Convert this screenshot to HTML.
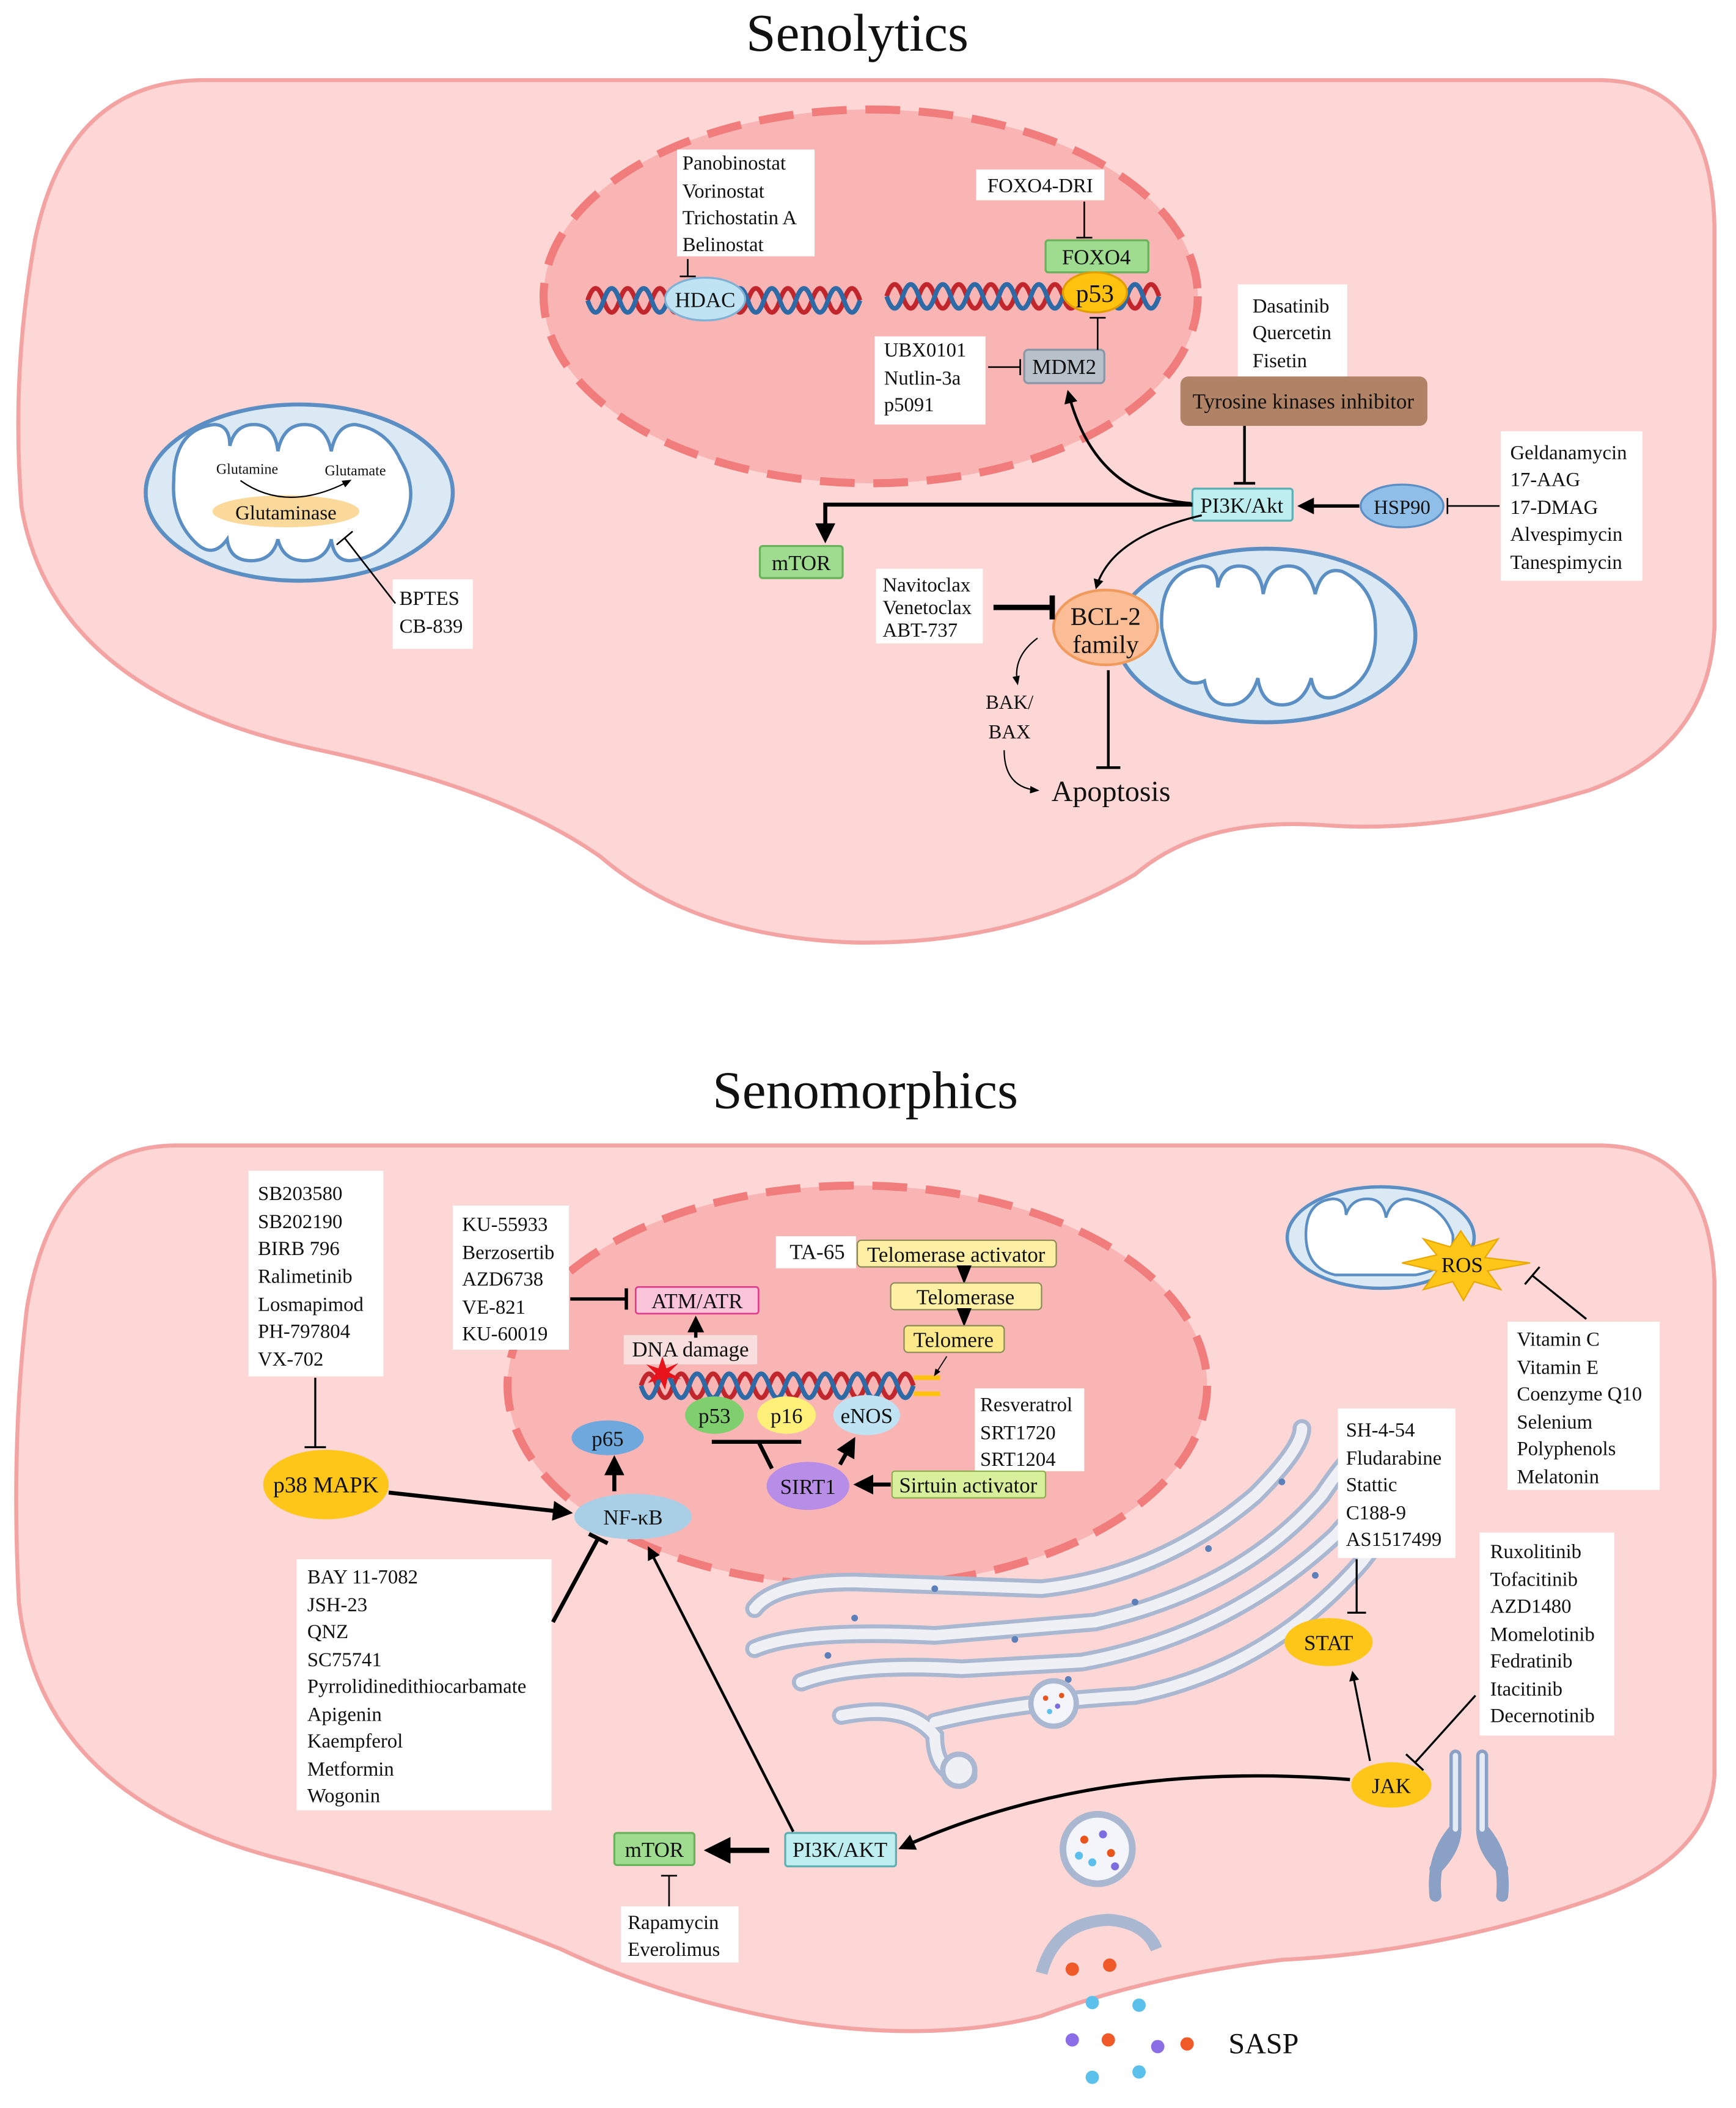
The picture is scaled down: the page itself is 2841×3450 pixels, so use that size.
<!DOCTYPE html>
<html><head><meta charset="utf-8"><style>
html,body{margin:0;padding:0;background:#fff;}
svg{display:block;}
text{font-family:"Liberation Serif",serif;fill:#111;}
</style></head><body>
<svg width="2841" height="3450" viewBox="0 0 1300 1579" xmlns="http://www.w3.org/2000/svg">
<defs>
<marker id="a" viewBox="0 0 10 10" refX="8" refY="5" markerWidth="5" markerHeight="5" orient="auto"><path d="M0,0 L10,5 L0,10 z" fill="#000"/></marker>
<marker id="as" viewBox="0 0 10 10" refX="8" refY="5" markerWidth="7" markerHeight="7" orient="auto"><path d="M0,1 L10,5 L0,9 z" fill="#000"/></marker>
</defs>
<rect width="1300" height="1579" fill="#fff"/>

<!-- ========== SENOLYTICS ========== -->
<text x="642" y="38" font-size="40" text-anchor="middle">Senolytics</text>
<path d="M150,60 L1200,60 Q1282,62 1284,170 L1284,470 Q1280,560 1190,592 Q1080,625 990,618 Q900,612 850,655 Q760,708 640,706 Q520,702 450,642 Q380,592 240,562 Q40,520 16,380 Q8,280 26,180 Q50,62 150,60 Z" fill="#fdd6d6" stroke="#f4a3a3" stroke-width="3"/>
<ellipse cx="652" cy="222" rx="245" ry="140" fill="#f9b4b4" stroke="#f07c7c" stroke-width="6" stroke-dasharray="26,14"/>

<!-- helix 1 -->
<path d="M440,225 q6,-18 12,0 t12,0 t12,0 t12,0 t12,0 t12,0 t12,0 t12,0 t12,0 t12,0 t12,0 t12,0 t12,0 t12,0 t12,0 t12,0 t12,0" fill="none" stroke="#c0262c" stroke-width="3.5"/>
<path d="M440,225 q6,18 12,0 t12,0 t12,0 t12,0 t12,0 t12,0 t12,0 t12,0 t12,0 t12,0 t12,0 t12,0 t12,0 t12,0 t12,0 t12,0 t12,0" fill="none" stroke="#2d6aa6" stroke-width="3.5"/>
<path d="M664,222 q6,-18 12,0 t12,0 t12,0 t12,0 t12,0 t12,0 t12,0 t12,0 t12,0 t12,0 t12,0 t12,0 t12,0 t12,0 t12,0 t12,0 t12,0" fill="none" stroke="#c0262c" stroke-width="3.5"/>
<path d="M664,222 q6,18 12,0 t12,0 t12,0 t12,0 t12,0 t12,0 t12,0 t12,0 t12,0 t12,0 t12,0 t12,0 t12,0 t12,0 t12,0 t12,0 t12,0" fill="none" stroke="#2d6aa6" stroke-width="3.5"/>

<ellipse cx="528" cy="224" rx="30" ry="16" fill="#bfe3f3" stroke="#7fb1d4" stroke-width="1.5"/>
<text x="528" y="230" font-size="16" text-anchor="middle">HDAC</text>
<rect x="507" y="112" width="103" height="80" fill="#fff"/>
<text font-size="15"><tspan x="511" y="127">Panobinostat</tspan><tspan x="511" y="148">Vorinostat</tspan><tspan x="511" y="168">Trichostatin A</tspan><tspan x="511" y="188">Belinostat</tspan></text>
<path d="M515,194 V207 M509,207 H521" stroke="#000" stroke-width="1.2"/>

<rect x="731" y="127" width="96" height="23" fill="#fff"/>
<text x="779" y="144" font-size="15" text-anchor="middle">FOXO4-DRI</text>
<path d="M812,151 V178 M806,178 H818" stroke="#000" stroke-width="1.2"/>
<rect x="783" y="180" width="77" height="24" fill="#9fdc8f" stroke="#6bb25c" stroke-width="1.5" rx="2"/>
<text x="821" y="198" font-size="16" text-anchor="middle">FOXO4</text>
<ellipse cx="820" cy="219" rx="24" ry="15" fill="#ffc20e" stroke="#e29c00" stroke-width="1.5"/>
<text x="820" y="226" font-size="19" text-anchor="middle">p53</text>

<rect x="767" y="262" width="60" height="25" fill="#b8c0ca" stroke="#8a97a6" stroke-width="1.5" rx="3"/>
<text x="797" y="280" font-size="16" text-anchor="middle">MDM2</text>
<path d="M822,262 V238 M816,238 H828" stroke="#000" stroke-width="1.2"/>
<rect x="655" y="252" width="83" height="66" fill="#fff"/>
<text font-size="15"><tspan x="662" y="267">UBX0101</tspan><tspan x="662" y="288">Nutlin-3a</tspan><tspan x="662" y="308">p5091</tspan></text>
<path d="M740,275 H764 M764,269 V281" stroke="#000" stroke-width="1.2"/>

<rect x="927" y="213" width="82" height="70" fill="#fff"/>
<text font-size="15"><tspan x="938" y="234">Dasatinib</tspan><tspan x="938" y="254">Quercetin</tspan><tspan x="938" y="275">Fisetin</tspan></text>
<rect x="884" y="282" width="185" height="37" fill="#b08266" rx="6"/>
<text x="976" y="306" font-size="16" text-anchor="middle">Tyrosine kinases inhibitor</text>
<path d="M932,319 V362 M924,362 H940" stroke="#000" stroke-width="2"/>

<rect x="893" y="366" width="75" height="24" fill="#bfeef0" stroke="#5fb0b5" stroke-width="1.5" rx="2"/>
<text x="930" y="384" font-size="16" text-anchor="middle">PI3K/Akt</text>
<ellipse cx="1050" cy="379" rx="31" ry="16" fill="#8fbfe8" stroke="#5b8fc4" stroke-width="1.5"/>
<text x="1050" y="385" font-size="15" text-anchor="middle">HSP90</text>
<path d="M1018,379 H974" stroke="#000" stroke-width="2.5" marker-end="url(#a)"/>
<path d="M1123,379 H1084 M1084,373 V385" stroke="#000" stroke-width="1.2"/>
<rect x="1124" y="323" width="106" height="112" fill="#fff"/>
<text font-size="15"><tspan x="1131" y="344">Geldanamycin</tspan><tspan x="1131" y="364">17-AAG</tspan><tspan x="1131" y="385">17-DMAG</tspan><tspan x="1131" y="405">Alvespimycin</tspan><tspan x="1131" y="426">Tanespimycin</tspan></text>

<path d="M892,377 Q820,372 800,294" fill="none" stroke="#000" stroke-width="2" marker-end="url(#a)"/>
<path d="M893,378 H618 V404" fill="none" stroke="#000" stroke-width="3" marker-end="url(#a)"/>
<rect x="569" y="409" width="62" height="24" fill="#9fdc8f" stroke="#6bb25c" stroke-width="1.5" rx="2"/>
<text x="600" y="427" font-size="16" text-anchor="middle">mTOR</text>
<path d="M900,386 Q832,402 821,440" fill="none" stroke="#000" stroke-width="1.5" marker-end="url(#a)"/>

<!-- right mito -->
<ellipse cx="948" cy="476" rx="112" ry="65" fill="#dbe9f5" stroke="#5b8fc4" stroke-width="3"/>
<path d="M870,470 Q868,428 900,424 Q912,424 912,440 Q915,424 928,424 Q944,424 946,445 Q950,424 965,424 Q980,424 985,445 Q990,424 1005,428 Q1030,440 1030,470 Q1032,510 1000,522 Q985,526 982,508 Q976,528 960,528 Q945,528 942,508 Q936,528 920,528 Q905,528 902,510 Q880,520 870,470 Z" fill="#fff" stroke="#5b8fc4" stroke-width="2.5"/>
<ellipse cx="828" cy="470" rx="39" ry="28" fill="#fbbd96" stroke="#f09a5c" stroke-width="2"/>
<text x="828" y="468" font-size="19" text-anchor="middle">BCL-2</text>
<text x="828" y="489" font-size="19" text-anchor="middle">family</text>
<rect x="656" y="426" width="80" height="56" fill="#fff"/>
<text font-size="15"><tspan x="661" y="443">Navitoclax</tspan><tspan x="661" y="460">Venetoclax</tspan><tspan x="661" y="477">ABT-737</tspan></text>
<path d="M744,455 H788 M788,446 V464" stroke="#000" stroke-width="4"/>
<text font-size="15" text-anchor="middle"><tspan x="756" y="531">BAK/</tspan><tspan x="756" y="553">BAX</tspan></text>
<path d="M777,478 Q758,492 762,512" fill="none" stroke="#000" stroke-width="1" marker-end="url(#as)"/>
<path d="M752,562 Q752,590 777,592" fill="none" stroke="#000" stroke-width="1" marker-end="url(#as)"/>
<text x="832" y="600" font-size="22" text-anchor="middle">Apoptosis</text>
<path d="M830,502 V575 M821,575 H839" stroke="#000" stroke-width="2"/>

<!-- left mito -->
<ellipse cx="224" cy="369" rx="115" ry="66" fill="#dbe9f5" stroke="#5b8fc4" stroke-width="3"/>
<path d="M130,360 Q130,322 160,318 Q172,318 172,334 Q176,318 190,318 Q206,318 208,338 Q212,318 228,318 Q244,318 248,338 Q252,318 266,318 Q290,322 300,345 Q315,370 300,395 Q285,418 262,420 Q250,420 248,404 Q244,420 228,420 Q212,420 208,404 Q204,420 188,420 Q172,420 170,404 Q160,418 148,408 Q128,390 130,360 Z" fill="#fff" stroke="#5b8fc4" stroke-width="2.5"/>
<ellipse cx="214" cy="383" rx="55" ry="12" fill="#fbd99a"/>
<text x="214" y="389" font-size="15" text-anchor="middle">Glutaminase</text>
<text x="185" y="355" font-size="11" text-anchor="middle">Glutamine</text>
<text x="266" y="356" font-size="11" text-anchor="middle">Glutamate</text>
<path d="M180,360 Q215,385 262,360" fill="none" stroke="#000" stroke-width="1" marker-end="url(#as)"/>
<rect x="294" y="434" width="60" height="52" fill="#fff"/>
<text font-size="15"><tspan x="299" y="453">BPTES</tspan><tspan x="299" y="474">CB-839</tspan></text>
<path d="M296,452 L258,403 M252,408 L264,398" stroke="#000" stroke-width="1.2"/>

<!-- ========== SENOMORPHICS ========== -->
<text x="648" y="830" font-size="40" text-anchor="middle">Senomorphics</text>
<path d="M130,858 L1200,858 Q1280,860 1284,960 L1284,1330 Q1280,1390 1200,1420 Q1080,1462 960,1468 Q860,1480 780,1510 Q700,1530 600,1515 Q500,1498 420,1460 Q320,1420 220,1395 Q30,1350 14,1200 Q8,1080 20,980 Q40,860 130,858 Z" fill="#fdd6d6" stroke="#f4a3a3" stroke-width="3"/>
<ellipse cx="642" cy="1038" rx="262" ry="150" fill="#f9b4b4" stroke="#f07c7c" stroke-width="6" stroke-dasharray="26,14"/>

<!-- ER -->
<g fill="none" stroke-linecap="round">
<g stroke="#a9b8d0" stroke-width="14">
<path d="M565,1205 Q580,1185 640,1185 L780,1190 Q870,1180 940,1120 Q975,1085 975,1070"/>
<path d="M565,1235 Q600,1220 700,1225 L820,1215 Q930,1190 990,1120 Q1010,1090 1020,1085"/>
<path d="M600,1260 Q640,1245 720,1250 L810,1245 Q920,1225 1000,1150 Q1035,1110 1055,1100"/>
<path d="M630,1285 Q680,1275 700,1300 Q700,1330 725,1330 M700,1290 Q760,1275 850,1270 Q950,1250 1020,1170 Q1050,1130 1075,1120"/>
</g>
<g stroke="#eef0f6" stroke-width="8">
<path d="M565,1205 Q580,1185 640,1185 L780,1190 Q870,1180 940,1120 Q975,1085 975,1070"/>
<path d="M565,1235 Q600,1220 700,1225 L820,1215 Q930,1190 990,1120 Q1010,1090 1020,1085"/>
<path d="M600,1260 Q640,1245 720,1250 L810,1245 Q920,1225 1000,1150 Q1035,1110 1055,1100"/>
<path d="M630,1285 Q680,1275 700,1300 Q700,1330 725,1330 M700,1290 Q760,1275 850,1270 Q950,1250 1020,1170 Q1050,1130 1075,1120"/>
</g>
</g>
<circle cx="718" cy="1326" r="12" fill="#eef0f6" stroke="#a9b8d0" stroke-width="4"/>
<g fill="#5b7fb8"><circle cx="640" cy="1212" r="2.5"/><circle cx="700" cy="1190" r="2.5"/><circle cx="760" cy="1228" r="2.5"/><circle cx="850" cy="1200" r="2.5"/><circle cx="905" cy="1160" r="2.5"/><circle cx="960" cy="1110" r="2.5"/><circle cx="620" cy="1240" r="2.5"/><circle cx="800" cy="1258" r="2.5"/><circle cx="985" cy="1180" r="2.5"/></g>

<!-- nucleus 2 helix -->
<path d="M480,1038 q6,-18 12,0 t12,0 t12,0 t12,0 t12,0 t12,0 t12,0 t12,0 t12,0 t12,0 t12,0 t12,0 t12,0 t12,0 t12,0 t12,0 t12,0" fill="none" stroke="#c0262c" stroke-width="3.5"/>
<path d="M480,1038 q6,18 12,0 t12,0 t12,0 t12,0 t12,0 t12,0 t12,0 t12,0 t12,0 t12,0 t12,0 t12,0 t12,0 t12,0 t12,0 t12,0 t12,0" fill="none" stroke="#2d6aa6" stroke-width="3.5"/>
<path d="M684,1032 H704 M684,1044 H704" stroke="#ffc20e" stroke-width="3.5"/>
<rect x="467" y="1000" width="100" height="22" fill="#f9dede"/>
<text x="517" y="1016" font-size="16" text-anchor="middle">DNA damage</text>
<path d="M496,1016 L499,1025 L508,1021 L501,1028 L510,1033 L500,1032 L498,1041 L494,1033 L485,1036 L491,1029 L484,1022 L493,1025 Z" fill="#e8141c"/>
<path d="M521,1002 V988" stroke="#000" stroke-width="2.5" marker-end="url(#a)"/>
<rect x="476" y="964" width="92" height="20" fill="#fcc4d9" stroke="#e23a8c" stroke-width="1.2" rx="2"/>
<text x="522" y="980" font-size="16" text-anchor="middle">ATM/ATR</text>
<rect x="339" y="903" width="87" height="108" fill="#fff"/>
<text font-size="15"><tspan x="346" y="922">KU-55933</tspan><tspan x="346" y="943">Berzosertib</tspan><tspan x="346" y="963">AZD6738</tspan><tspan x="346" y="984">VE-821</tspan><tspan x="346" y="1004">KU-60019</tspan></text>
<path d="M427,973 H469 M469,965 V981" stroke="#000" stroke-width="2.5"/>

<rect x="581" y="926" width="60" height="24" fill="#fff"/>
<text x="612" y="943" font-size="16" text-anchor="middle">TA-65</text>
<rect x="642" y="929" width="149" height="20" fill="#fdf0a5" stroke="#8a8a55" stroke-width="1" rx="3"/>
<text x="716" y="945" font-size="16" text-anchor="middle">Telomerase activator</text>
<path d="M722,950 V959" stroke="#000" stroke-width="2" marker-end="url(#as)"/>
<rect x="667" y="961" width="113" height="20" fill="#fdf0a5" stroke="#8a8a55" stroke-width="1" rx="3"/>
<text x="723" y="977" font-size="16" text-anchor="middle">Telomerase</text>
<path d="M722,982 V991" stroke="#000" stroke-width="2" marker-end="url(#as)"/>
<rect x="677" y="993" width="75" height="20" fill="#fde98a" stroke="#8a8a55" stroke-width="1" rx="3"/>
<text x="714" y="1009" font-size="16" text-anchor="middle">Telomere</text>
<path d="M709,1016 L700,1030" stroke="#000" stroke-width="0.8" marker-end="url(#as)"/>

<ellipse cx="535" cy="1060" rx="22" ry="14" fill="#7fcf6f"/>
<text x="535" y="1066" font-size="16" text-anchor="middle">p53</text>
<ellipse cx="589" cy="1060" rx="22" ry="14" fill="#fff07a"/>
<text x="589" y="1066" font-size="16" text-anchor="middle">p16</text>
<ellipse cx="649" cy="1060" rx="25" ry="15" fill="#bfe3f3"/>
<text x="649" y="1066" font-size="16" text-anchor="middle">eNOS</text>
<path d="M533,1080 H600 M568,1080 L578,1100" stroke="#000" stroke-width="3"/>
<ellipse cx="605" cy="1113" rx="31" ry="18" fill="#b88de8"/>
<text x="605" y="1119" font-size="16" text-anchor="middle">SIRT1</text>
<path d="M629,1097 L639,1079" stroke="#000" stroke-width="3" marker-end="url(#a)"/>
<rect x="730" y="1040" width="82" height="62" fill="#fff"/>
<text font-size="15"><tspan x="734" y="1057">Resveratrol</tspan><tspan x="734" y="1078">SRT1720</tspan><tspan x="734" y="1098">SRT1204</tspan></text>
<rect x="668" y="1102" width="115" height="20" fill="#d8ef9c" stroke="#8ab04c" stroke-width="1" rx="2"/>
<text x="725" y="1118" font-size="16" text-anchor="middle">Sirtuin activator</text>
<path d="M667,1112 H642" stroke="#000" stroke-width="3" marker-end="url(#a)"/>

<ellipse cx="455" cy="1077" rx="27" ry="13" fill="#6fa8dc"/>
<text x="455" y="1083" font-size="16" text-anchor="middle">p65</text>
<path d="M460,1117 V1093" stroke="#000" stroke-width="3" marker-end="url(#a)"/>
<ellipse cx="474" cy="1136" rx="44" ry="17" fill="#a9cfe7"/>
<text x="474" y="1142" font-size="16" text-anchor="middle">NF-κB</text>

<rect x="186" y="877" width="101" height="154" fill="#fff"/>
<text font-size="15"><tspan x="193" y="899">SB203580</tspan><tspan x="193" y="920">SB202190</tspan><tspan x="193" y="940">BIRB 796</tspan><tspan x="193" y="961">Ralimetinib</tspan><tspan x="193" y="982">Losmapimod</tspan><tspan x="193" y="1002">PH-797804</tspan><tspan x="193" y="1023">VX-702</tspan></text>
<path d="M236,1032 V1084 M228,1084 H244" stroke="#000" stroke-width="1.5"/>
<ellipse cx="244" cy="1112" rx="47" ry="26" fill="#ffc61a"/>
<text x="244" y="1118" font-size="17" text-anchor="middle">p38 MAPK</text>
<path d="M291,1118 L426,1133" stroke="#000" stroke-width="3" marker-end="url(#a)"/>

<rect x="222" y="1168" width="191" height="188" fill="#fff"/>
<text font-size="15"><tspan x="230" y="1186">BAY 11-7082</tspan><tspan x="230" y="1207">JSH-23</tspan><tspan x="230" y="1227">QNZ</tspan><tspan x="230" y="1248">SC75741</tspan><tspan x="230" y="1268">Pyrrolidinedithiocarbamate</tspan><tspan x="230" y="1289">Apigenin</tspan><tspan x="230" y="1309">Kaempferol</tspan><tspan x="230" y="1330">Metformin</tspan><tspan x="230" y="1350">Wogonin</tspan></text>
<path d="M414,1215 L448,1152 M441,1149 L455,1156" stroke="#000" stroke-width="3"/>

<rect x="588" y="1373" width="83" height="25" fill="#bfeef0" stroke="#5fb0b5" stroke-width="1.5" rx="2"/>
<text x="629" y="1391" font-size="16" text-anchor="middle">PI3K/AKT</text>
<path d="M594,1372 L486,1160" stroke="#000" stroke-width="2" marker-end="url(#a)"/>
<path d="M576,1386 H531" stroke="#000" stroke-width="4" marker-end="url(#a)"/>
<rect x="460" y="1373" width="60" height="24" fill="#9fdc8f" stroke="#6bb25c" stroke-width="1.5" rx="2"/>
<text x="490" y="1391" font-size="16" text-anchor="middle">mTOR</text>
<path d="M501,1428 V1405 M495,1405 H507" stroke="#000" stroke-width="1.2"/>
<rect x="465" y="1428" width="88" height="42" fill="#fff"/>
<text font-size="15"><tspan x="470" y="1445">Rapamycin</tspan><tspan x="470" y="1465">Everolimus</tspan></text>

<!-- receptor -->
<g fill="none" stroke="#8aa0c4" stroke-width="9" stroke-linecap="round"><path d="M1090,1315 L1090,1370 Q1090,1385 1075,1400 M1110,1315 L1110,1370 Q1110,1385 1125,1400"/><path d="M1090,1370 Q1072,1390 1075,1420 M1110,1370 Q1128,1390 1125,1420"/></g>
<g fill="none" stroke="#e4ebf5" stroke-width="4" stroke-linecap="round"><path d="M1090,1315 L1090,1370 M1110,1315 L1110,1370"/></g>
<ellipse cx="1042" cy="1337" rx="30" ry="17" fill="#ffc61a"/>
<text x="1042" y="1343" font-size="16" text-anchor="middle">JAK</text>
<path d="M1011,1333 Q820,1318 675,1384" fill="none" stroke="#000" stroke-width="2.5" marker-end="url(#a)"/>
<path d="M1026,1319 L1013,1253" stroke="#000" stroke-width="1.5" marker-end="url(#a)"/>
<ellipse cx="995" cy="1230" rx="33" ry="18" fill="#ffc61a"/>
<text x="995" y="1236" font-size="16" text-anchor="middle">STAT</text>
<rect x="1002" y="1055" width="88" height="112" fill="#fff"/>
<text font-size="15"><tspan x="1008" y="1076">SH-4-54</tspan><tspan x="1008" y="1097">Fludarabine</tspan><tspan x="1008" y="1117">Stattic</tspan><tspan x="1008" y="1138">C188-9</tspan><tspan x="1008" y="1158">AS1517499</tspan></text>
<path d="M1016,1168 V1208 M1009,1208 H1023" stroke="#000" stroke-width="1.5"/>
<rect x="1108" y="1148" width="101" height="152" fill="#fff"/>
<text font-size="15"><tspan x="1116" y="1167">Ruxolitinib</tspan><tspan x="1116" y="1188">Tofacitinib</tspan><tspan x="1116" y="1208">AZD1480</tspan><tspan x="1116" y="1229">Momelotinib</tspan><tspan x="1116" y="1249">Fedratinib</tspan><tspan x="1116" y="1270">Itacitinib</tspan><tspan x="1116" y="1290">Decernotinib</tspan></text>
<path d="M1105,1270 L1060,1320 M1053,1314 L1066,1326" stroke="#000" stroke-width="1.5"/>

<!-- top right mito + ROS -->
<ellipse cx="1034" cy="927" rx="70" ry="38" fill="#dbe9f5" stroke="#5b8fc4" stroke-width="2.5"/>
<path d="M978,925 Q978,900 998,898 Q1008,898 1008,910 Q1012,898 1024,898 Q1036,898 1038,912 Q1042,898 1054,898 Q1080,902 1088,925 Q1090,950 1060,955 L1000,955 Q978,950 978,925 Z" fill="#fff" stroke="#5b8fc4" stroke-width="2"/>
<path d="M1094,922 L1102,934 L1122,928 L1112,942 L1146,946 L1114,952 L1124,966 L1104,960 L1096,974 L1088,960 L1066,966 L1076,952 L1050,946 L1076,940 L1066,928 L1086,934 Z" fill="#ffc61a" stroke="#e8a800" stroke-width="1"/>
<text x="1095" y="953" font-size="16" text-anchor="middle">ROS</text>
<path d="M1188,988 L1147,955 M1142,962 L1153,949" stroke="#000" stroke-width="1.5"/>
<rect x="1129" y="990" width="114" height="126" fill="#fff"/>
<text font-size="15"><tspan x="1136" y="1008">Vitamin C</tspan><tspan x="1136" y="1029">Vitamin E</tspan><tspan x="1136" y="1049">Coenzyme Q10</tspan><tspan x="1136" y="1070">Selenium</tspan><tspan x="1136" y="1090">Polyphenols</tspan><tspan x="1136" y="1111">Melatonin</tspan></text>

<!-- vesicles / SASP -->
<circle cx="789" cy="1276" r="17" fill="#f3f5fa" stroke="#a9b8d0" stroke-width="4"/>
<g><circle cx="783" cy="1272" r="2" fill="#e8541c"/><circle cx="792" cy="1278" r="2" fill="#7a6ee0"/><circle cx="786" cy="1282" r="2" fill="#5bc0eb"/><circle cx="795" cy="1270" r="2" fill="#e8541c"/></g>
<circle cx="822" cy="1385" r="26" fill="#f3f5fa" stroke="#a9b8d0" stroke-width="5"/>
<g><circle cx="812" cy="1378" r="3" fill="#e8541c"/><circle cx="826" cy="1374" r="3" fill="#7a6ee0"/><circle cx="832" cy="1388" r="3" fill="#e8541c"/><circle cx="818" cy="1395" r="3" fill="#5bc0eb"/><circle cx="808" cy="1390" r="3" fill="#5bc0eb"/><circle cx="835" cy="1398" r="3" fill="#7a6ee0"/></g>
<path d="M780,1478 Q790,1440 830,1438 Q858,1440 866,1460" fill="none" stroke="#a9b8d0" stroke-width="9"/>
<g><circle cx="803" cy="1475" r="5" fill="#f05a28"/><circle cx="831" cy="1472" r="5" fill="#f05a28"/><circle cx="818" cy="1500" r="5" fill="#5bc0eb"/><circle cx="853" cy="1502" r="5" fill="#5bc0eb"/><circle cx="803" cy="1528" r="5" fill="#8b6ee6"/><circle cx="830" cy="1528" r="5" fill="#f05a28"/><circle cx="867" cy="1533" r="5" fill="#8b6ee6"/><circle cx="889" cy="1531" r="5" fill="#f05a28"/><circle cx="818" cy="1556" r="5" fill="#5bc0eb"/><circle cx="853" cy="1552" r="5" fill="#5bc0eb"/></g>
<text x="920" y="1538" font-size="22">SASP</text>
</svg>
</body></html>
